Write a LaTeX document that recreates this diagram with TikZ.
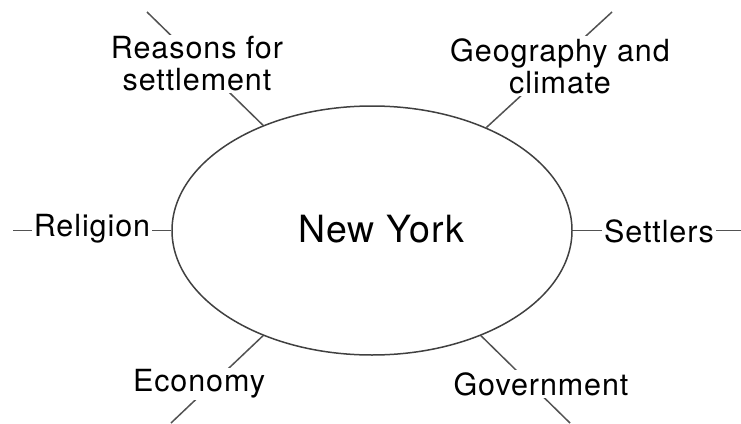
\documentclass[tikz,border=0pt]{standalone}
\usepackage{fontspec}
\setmainfont[LetterSpace=3]{TeX Gyre Heros}
\usetikzlibrary{shapes,positioning}

\begin{document}
\begin{tikzpicture}[x=1pt,y=-1pt]

  \tikzstyle{every node}=[font=\fontsize{30.5}{32}\selectfont]
  \tikzstyle{topic}=[fill=white,inner sep=2pt,align=center]
  \tikzstyle{spoke}=[draw=black!68,line width=1.5pt]
  \useasboundingbox (0,0) rectangle (741,423);
  \node[ellipse,draw=black!75,line width=1.5pt,minimum width=400pt,minimum height=249pt,inner sep=0pt,font=\fontsize{37.5}{40}\selectfont] (NY) at (372,230.5) {\hspace*{18pt}\raisebox{4pt}{New York}};

  \coordinate (rs) at (147,12);
  \coordinate (gc) at (612,12);
  \coordinate (rl) at (13,230.5);
  \coordinate (st) at (741,230.5);
  \coordinate (ec) at (171,423);
  \coordinate (gv) at (570,423);

  \draw[spoke] (rs) -- (NY.136);
  \draw[spoke] (gc) -- (NY.42);
  \draw[spoke] (rl) -- (NY.west);
  \draw[spoke] (st) -- (NY.east);
  \draw[spoke] (ec) -- (NY.224);
  \draw[spoke] (gv) -- (NY.316);

  \node[topic] (R) at (197,64) {Reasons for\\settlement};
  \node[topic] (G) at (560,66) {Geography and\\climate};
  \node[topic] (Rel) at (92,229) {Religion};
  \node[topic] (S) at (659,231) {Settlers};
  \node[topic] (E) at (199,384) {Economy};
  \node[topic] (Gov) at (541,384) {Government};
\end{tikzpicture}
\end{document}
